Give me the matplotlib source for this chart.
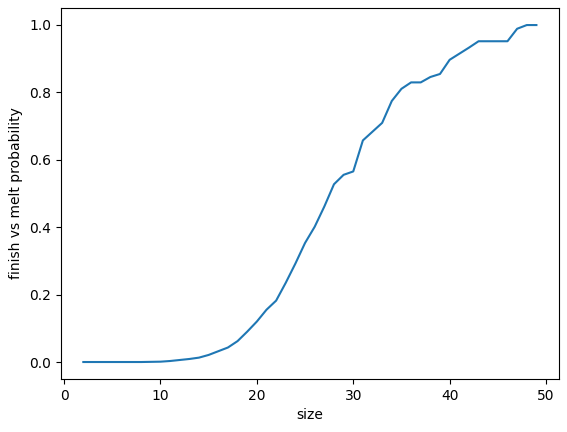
import matplotlib
matplotlib.use("Agg")
import matplotlib.pyplot as plt

# board size vs probability that a game finishes rather than melts
sizes = list(range(2, 50))
probability = [
    0.0, 0.0, 0.0, 0.0, 0.0, 0.0, 0.0, 0.0005, 0.001,        # 2-10
    0.003, 0.006, 0.009, 0.013, 0.021, 0.032, 0.043, 0.062,  # 11-18
    0.09, 0.12, 0.155, 0.182, 0.235, 0.292, 0.353, 0.401,    # 19-26
    0.461, 0.527, 0.555, 0.565, 0.657, 0.683, 0.709, 0.774,  # 27-34
    0.81, 0.829, 0.829, 0.845, 0.854, 0.896, 0.914, 0.932,   # 35-42
    0.951, 0.951, 0.951, 0.951, 0.988, 0.999, 0.999,         # 43-49
]

fig = plt.figure(figsize=(5.67, 4.32), dpi=100)
ax = fig.add_axes([0.107, 0.123, 0.879, 0.858])
ax.plot(sizes, probability)
ax.set_xlabel("size")
ax.set_ylabel("finish vs melt probability")

fig.savefig("out.png", dpi=100)
